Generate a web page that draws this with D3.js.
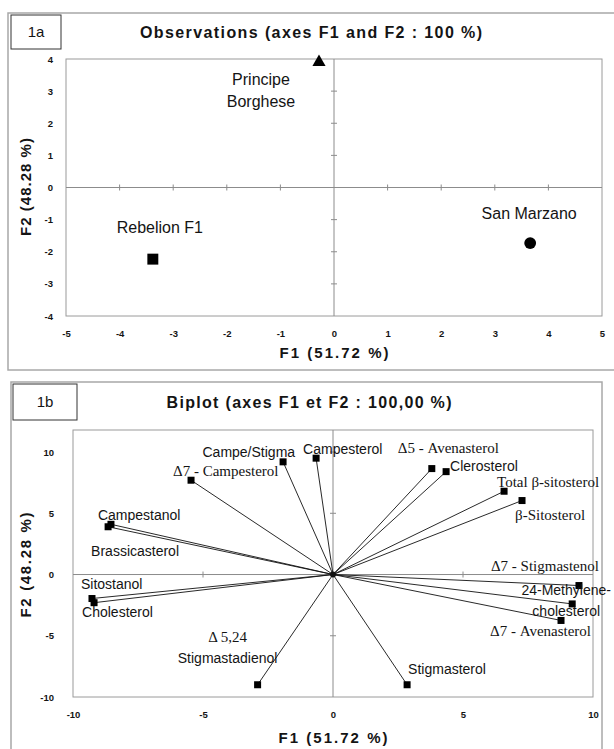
<!DOCTYPE html>
<html>
<head>
<meta charset="utf-8">
<script src="https://cdn.jsdelivr.net/npm/d3@7"></script>
<style>
  body { margin: 0; background: #fff; }
  text { font-family: "Liberation Sans", Arial, sans-serif; fill: #141414; }
  .serif { font-family: "Liberation Serif", "Times New Roman", serif; }
</style>
</head>
<body>
<script>
// ---- data : panel 1a (observations) ----
var obsNames = ["Principe\nBorghese", "Rebelion F1", "San Marzano"];
var obsF1 = [-0.28, -3.38, 3.66];
var obsF2 = [3.9, -2.23, -1.73];
var obsShapes = ["triangle", "square", "circle"];

// ---- data : panel 1b (biplot variables) ----
var varNames = [
  "Campe/Stigma", "Campesterol", "Δ5 - Avenasterol", "Clerosterol",
  "Total β-sitosterol", "β-Sitosterol", "Δ7 - Campesterol", "Campestanol",
  "Brassicasterol", "Sitostanol", "Cholesterol", "Δ 5,24\nStigmastadienol",
  "Stigmasterol", "Δ7 - Stigmastenol", "24-Methylene-\ncholesterol", "Δ7 - Avenasterol"
];
var varF1 = [-1.92, -0.65, 3.8, 4.35, 6.58, 7.27, -5.46, -8.54,
             -8.65, -9.27, -9.19, -2.9, 2.85, 9.46, 9.2, 8.77];
var varF2 = [9.2, 9.5, 8.65, 8.4, 6.8, 6.04, 7.7, 4.1,
             3.9, -1.96, -2.3, -9.0, -9.0, -0.9, -2.4, -3.75];

var ticks1aX = [-5, -4, -3, -2, -1, 0, 1, 2, 3, 4, 5];
var ticks1aY = [-4, -3, -2, -1, 0, 1, 2, 3, 4];
var ticks1bX = [-10, -5, 0, 5, 10];
var ticks1bY = [-10, -5, 0, 5, 10];

// label placement (pixels from the marker)
var obsLabelPos = [
  { dx: -58, dy: 17, anchor: "middle" },
  { dx: 7, dy: -32, anchor: "middle" },
  { dx: -1, dy: -30, anchor: "middle" }
];
var varLabelPos = [
  { dx: 12, dy: -10, anchor: "end" },
  { dx: -13, dy: -9, anchor: "start" },
  { dx: -34, dy: -21, anchor: "start" },
  { dx: 4, dy: -6, anchor: "start" },
  { dx: -7, dy: -9, anchor: "start" },
  { dx: -7, dy: 14, anchor: "start" },
  { dx: -18, dy: -9, anchor: "start" },
  { dx: -13, dy: -9, anchor: "start" },
  { dx: -17, dy: 24, anchor: "start" },
  { dx: -11, dy: -15, anchor: "start" },
  { dx: -12, dy: 9, anchor: "start" },
  { dx: -30, dy: -48, anchor: "middle" },
  { dx: 1, dy: -16, anchor: "start" },
  { dx: -88, dy: -20, anchor: "start" },
  { dx: -6, dy: -14, anchor: "middle" },
  { dx: -71, dy: 11, anchor: "start" }
];

var svg = d3.select("body").append("svg")
  .attr("width", 614).attr("height", 749);

function panel(opt) {
  var g = svg.append("g");

  // outer frame
  g.append("rect")
    .attr("x", opt.frame[0]).attr("y", opt.frame[1])
    .attr("width", opt.frame[2]).attr("height", opt.frame[3])
    .attr("fill", "none").attr("stroke", "#a8a8a8").attr("stroke-width", 1.5);

  // tag box
  g.append("rect")
    .attr("x", opt.tag[0]).attr("y", opt.tag[1])
    .attr("width", opt.tag[2]).attr("height", opt.tag[3])
    .attr("fill", "#fff").attr("stroke", "#333").attr("stroke-width", 1);
  g.append("text")
    .attr("x", opt.tag[0] + opt.tag[2] / 2)
    .attr("y", opt.tag[1] + opt.tag[3] / 2 + 5)
    .attr("text-anchor", "middle")
    .style("font-size", "15px")
    .text(opt.tagText);

  // title
  g.append("text")
    .attr("x", opt.titlePos[0]).attr("y", opt.titlePos[1])
    .attr("text-anchor", "middle")
    .attr("textLength", opt.titlePos[2]).attr("lengthAdjust", "spacing")
    .style("font-size", "16px").style("font-weight", "bold")
    .text(opt.title);

  var x = d3.scaleLinear().domain(opt.xDom).range([opt.plot.l, opt.plot.r]);
  var y = d3.scaleLinear().domain(opt.yDom).range([opt.plot.b, opt.plot.t]);

  g.append("rect")
    .attr("x", opt.plot.l).attr("y", opt.plot.t)
    .attr("width", opt.plot.r - opt.plot.l).attr("height", opt.plot.b - opt.plot.t)
    .attr("fill", "#fff").attr("stroke", "#9a9a9a").attr("stroke-width", 1);

  // zero lines
  g.append("line")
    .attr("x1", opt.plot.l).attr("x2", opt.plot.r)
    .attr("y1", y(0)).attr("y2", y(0))
    .attr("stroke", "#8c8c8c");
  g.append("line")
    .attr("x1", x(0)).attr("x2", x(0))
    .attr("y1", opt.plot.t).attr("y2", opt.plot.b)
    .attr("stroke", "#8c8c8c");

  // small crossing ticks on the zero lines
  var innerX = opt.xTicks.filter(function(d) { return d != 0 && d > opt.xDom[0] && d < opt.xDom[1]; });
  var innerY = opt.yTicks.filter(function(d) { return d != 0 && d > opt.yDom[0] && d < opt.yDom[1]; });
  var tickMarks = g.append("g").attr("stroke", "#8c8c8c");
  tickMarks.selectAll("line.tx").data(innerX).enter().append("line")
    .attr("x1", function(d) { return x(d); }).attr("x2", function(d) { return x(d); })
    .attr("y1", y(0) - 3).attr("y2", y(0) + 3);
  tickMarks.selectAll("line.ty").data(innerY).enter().append("line")
    .attr("x1", x(0) - 3).attr("x2", x(0) + 3)
    .attr("y1", function(d) { return y(d); }).attr("y2", function(d) { return y(d); });

  // tick labels through axes
  var xAxis = d3.axisBottom(x).tickValues(opt.xTicks).tickSize(0)
    .tickFormat(function(d) { return String(d); });
  var yAxis = d3.axisLeft(y).tickValues(opt.yTicks).tickSize(0)
    .tickFormat(function(d) { return String(d); });

  var xg = g.append("g").attr("transform", "translate(0," + (opt.plot.b + 11) + ")").call(xAxis);
  var yg = g.append("g").attr("transform", "translate(" + (opt.plot.l - opt.yLabGap) + ",0)").call(yAxis);
  [xg, yg].forEach(function(a) {
    a.select(".domain").remove();
    a.selectAll("text")
      .style("font-family", "'Liberation Sans', Arial, sans-serif")
      .style("font-size", "9.5px").style("font-weight", "bold")
      .attr("fill", "#222");
  });
  yg.selectAll("text").attr("x", 0).attr("dy", "0.32em");

  // axis titles
  g.append("text")
    .attr("x", x(0)).attr("y", opt.xTitleY)
    .attr("text-anchor", "middle")
    .attr("textLength", 109).attr("lengthAdjust", "spacing")
    .style("font-size", "15px").style("font-weight", "bold")
    .text("F1 (51.72 %)");
  g.append("text")
    .attr("transform", "translate(" + opt.yTitle[0] + "," + opt.yTitle[1] + ") rotate(-90)")
    .attr("text-anchor", "middle")
    .attr("textLength", opt.yTitle[2]).attr("lengthAdjust", "spacing")
    .style("font-size", "15px").style("font-weight", "bold")
    .text("F2 (48.28 %)");

  return { g: g, x: x, y: y };
}

// ---------- panel 1a ----------
var p1 = panel({
  frame: [8, 13, 610, 357],
  tag: [11, 15, 50, 34], tagText: "1a",
  title: "Observations (axes F1 and F2 : 100 %)", titlePos: [311, 38, 342],
  plot: { l: 66, r: 602, t: 59, b: 316 },
  xDom: [-5, 5], yDom: [-4, 4],
  xTicks: ticks1aX, yTicks: ticks1aY, yLabGap: 13,
  xTitleY: 358, yTitle: [31, 187, 98]
});

var symType = { triangle: d3.symbolTriangle, square: d3.symbolSquare, circle: d3.symbolCircle };
var symSize = { triangle: 75, square: 120, circle: 110 };

var obs = p1.g.selectAll("g.obs")
  .data(obsNames.map(function(n, i) { return { name: n, f1: obsF1[i], f2: obsF2[i], shape: obsShapes[i], lab: obsLabelPos[i] }; }))
  .enter().append("g").attr("class", "obs")
  .attr("transform", function(d) { return "translate(" + p1.x(d.f1) + "," + p1.y(d.f2) + ")"; });

obs.append("path")
  .attr("d", function(d) { return d3.symbol().type(symType[d.shape]).size(symSize[d.shape])(); })
  .attr("fill", "#000");

obs.each(function(d) {
  var lines = d.name.split("\n");
  var t = d3.select(this).append("text")
    .attr("text-anchor", d.lab.anchor)
    .style("font-size", "16px");
  lines.forEach(function(l, k) {
    t.append("tspan").attr("x", d.lab.dx).attr("y", d.lab.dy + k * 22 + 6).text(l);
  });
});

// ---------- panel 1b ----------
var p2 = panel({
  frame: [11, 382, 591, 380],
  tag: [13, 384, 64, 36], tagText: "1b",
  title: "Biplot (axes F1 et F2 : 100,00 %)", titlePos: [309, 408, 285],
  plot: { l: 73, r: 593, t: 430, b: 697 },
  xDom: [-10, 10], yDom: [-10, 11.8],
  xTicks: ticks1bX, yTicks: ticks1bY, yLabGap: 19,
  xTitleY: 743, yTitle: [31, 565, 105]
});

var vars = varNames.map(function(n, i) {
  return { name: n, f1: varF1[i], f2: varF2[i], lab: varLabelPos[i] };
});

p2.g.selectAll("line.vec").data(vars).enter().append("line")
  .attr("x1", p2.x(0)).attr("y1", p2.y(0))
  .attr("x2", function(d) { return p2.x(d.f1); })
  .attr("y2", function(d) { return p2.y(d.f2); })
  .attr("stroke", "#111").attr("stroke-width", 0.9);

p2.g.append("circle")
  .attr("cx", p2.x(0)).attr("cy", p2.y(0)).attr("r", 3).attr("fill", "#111");

p2.g.selectAll("rect.pt").data(vars).enter().append("rect")
  .attr("x", function(d) { return p2.x(d.f1) - 3.5; })
  .attr("y", function(d) { return p2.y(d.f2) - 3.5; })
  .attr("width", 7).attr("height", 7)
  .attr("fill", "#000");

p2.g.selectAll("text.vlab").data(vars).enter().append("text")
  .attr("class", "vlab")
  .attr("text-anchor", function(d) { return d.lab.anchor; })
  .each(function(d) {
    var self = d3.select(this);
    var px = p2.x(d.f1), py = p2.y(d.f2);
    d.name.split("\n").forEach(function(l, k) {
      var sp = self.append("tspan")
        .attr("x", px + d.lab.dx)
        .attr("y", py + d.lab.dy + k * 21 + 5)
        .text(l);
      if (/[Δβ]/.test(l)) sp.attr("class", "serif").style("font-size", "15px");
      else sp.style("font-size", "14px");
    });
  });
</script>
</body>
</html>
